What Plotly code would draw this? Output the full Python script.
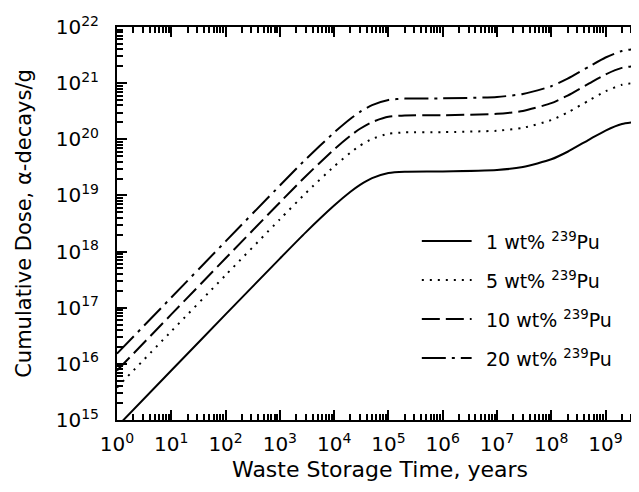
import plotly.graph_objects as go

# Waste storage time (years)
time_years = [1, 10, 100, 1e3, 3e3, 1e4, 2e4, 3e4, 5e4, 1e5, 2e5, 1e6,
              1e7, 3e7, 1e8, 2e8, 5e8, 1e9, 2e9, 5e9]

# Cumulative dose (alpha-decays/g)
dose_1wt = [7.6e14, 7.6e15, 7.6e16, 7.5e17, 2.2e18, 6.6e18, 1.16e19, 1.54e19,
            2.03e19, 2.51e19, 2.65e19, 2.68e19, 2.84e19, 3.2e19, 4.4e19,
            6.0e19, 9.9e19, 1.43e20, 1.87e20, 2.11e20]
dose_5wt = [3.8e15, 3.8e16, 3.8e17, 3.75e18, 1.1e19, 3.3e19, 5.8e19, 7.7e19,
            1.015e20, 1.255e20, 1.325e20, 1.34e20, 1.42e20, 1.6e20, 2.2e20,
            3.0e20, 4.95e20, 7.15e20, 9.35e20, 1.055e21]
dose_10wt = [7.6e15, 7.6e16, 7.6e17, 7.5e18, 2.2e19, 6.6e19, 1.16e20, 1.54e20,
             2.03e20, 2.51e20, 2.65e20, 2.68e20, 2.84e20, 3.2e20, 4.4e20,
             6.0e20, 9.9e20, 1.43e21, 1.87e21, 2.11e21]
dose_20wt = [1.52e16, 1.52e17, 1.52e18, 1.5e19, 4.4e19, 1.32e20, 2.32e20,
             3.08e20, 4.06e20, 5.02e20, 5.3e20, 5.36e20, 5.68e20, 6.4e20,
             8.8e20, 1.2e21, 1.98e21, 2.86e21, 3.74e21, 4.22e21]

series_names = ["1 wt% <sup>239</sup>Pu", "5 wt% <sup>239</sup>Pu",
                "10 wt% <sup>239</sup>Pu", "20 wt% <sup>239</sup>Pu"]
series_values = [dose_1wt, dose_5wt, dose_10wt, dose_20wt]
dash_styles = ["solid", "2px,6px", "18px,6px", "24px,6px,3px,6px"]

x_tick_exps = list(range(0, 10))
y_tick_exps = list(range(15, 23))
x_range_log = [0, 9.69]
y_range_log = [15, 22]

FONT = "DejaVu Sans, Arial, sans-serif"

fig = go.Figure()
for name, vals, dash in zip(series_names, series_values, dash_styles):
    fig.add_trace(go.Scatter(
        x=time_years, y=vals, mode="lines", name=name,
        line=dict(color="black", width=2, dash=dash, shape="spline", smoothing=0.6),
        showlegend=False,
    ))

# Manual legend (samples + labels) placed in paper coordinates
legend_y = [0.4555, 0.3562, 0.2570, 0.1578]
for name, dash, ly in zip(series_names, dash_styles, legend_y):
    fig.add_shape(type="line", xref="paper", yref="paper",
                  x0=0.5795, x1=0.6742, y0=ly, y1=ly,
                  line=dict(color="black", width=2, dash=dash))
    fig.add_annotation(xref="paper", yref="paper", x=0.697, y=ly,
                       xanchor="left", yanchor="middle", showarrow=False,
                       text=name, font=dict(family=FONT, size=19, color="black"))

minor_x = [float(k) * 10.0 ** n for n in range(0, 10) for k in range(2, 10)]
minor_y = [float(k) * 10.0 ** n for n in range(15, 22) for k in range(2, 10)]

fig.update_layout(
    width=639, height=492,
    margin=dict(l=109, r=2, t=19, b=80),
    paper_bgcolor="white", plot_bgcolor="white",
    font=dict(family=FONT, size=20, color="black"),
    xaxis=dict(
        type="log", range=x_range_log,
        tickmode="array",
        tickvals=[10.0 ** e for e in x_tick_exps],
        ticktext=["10<sup>%d</sup>" % e for e in x_tick_exps],
        ticks="inside", ticklen=10, tickwidth=2, tickcolor="black",
        minor=dict(tickmode="array", tickvals=minor_x, ticks="inside",
                   ticklen=6, tickwidth=1.5, tickcolor="black", showgrid=False),
        showline=True, linecolor="black", linewidth=2, mirror="ticks",
        showgrid=False, zeroline=False,
        ticklabelstandoff=5,
        tickfont=dict(family=FONT, size=20),
        title=dict(text="Waste Storage Time, years",
                   font=dict(family=FONT, size=22), standoff=7),
    ),
    yaxis=dict(
        type="log", range=y_range_log,
        tickmode="array",
        tickvals=[10.0 ** e for e in y_tick_exps],
        ticktext=["10<sup>%d</sup>" % e for e in y_tick_exps],
        ticks="inside", ticklen=10, tickwidth=2, tickcolor="black",
        minor=dict(tickmode="array", tickvals=minor_y, ticks="inside",
                   ticklen=6, tickwidth=1.5, tickcolor="black", showgrid=False),
        showline=True, linecolor="black", linewidth=2, mirror="ticks",
        showgrid=False, zeroline=False,
        ticklabelstandoff=12,
        tickfont=dict(family=FONT, size=20),
        title=dict(text="Cumulative Dose, α-decays/g",
                   font=dict(family=FONT, size=21), standoff=18),
    ),
)

fig.write_html("out.html")
